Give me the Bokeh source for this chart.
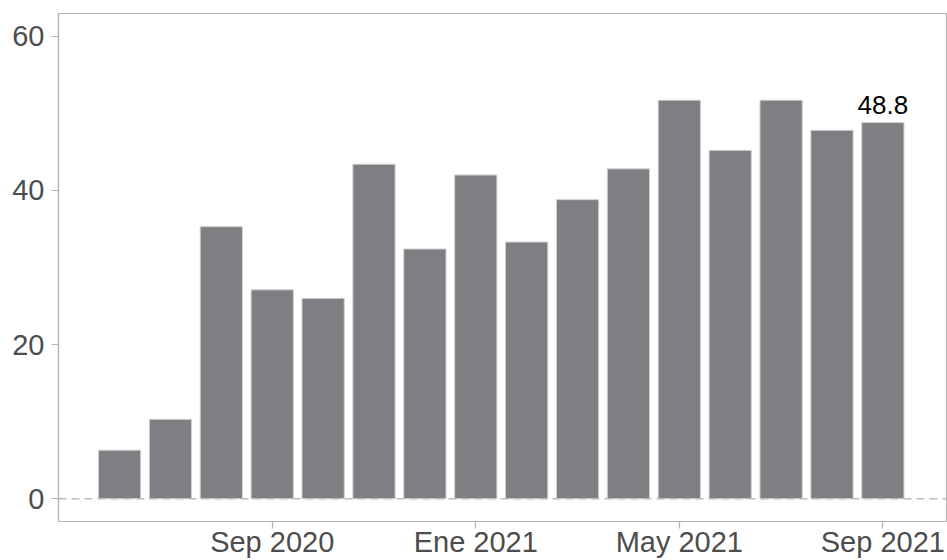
from bokeh.plotting import figure
from bokeh.models import ColumnDataSource, FixedTicker, Span, Range1d
from bokeh.core.properties import value
from bokeh.embed import file_html
from bokeh.resources import INLINE

months = ["Jun 2020", "Jul 2020", "Ago 2020", "Sep 2020", "Oct 2020", "Nov 2020",
          "Dic 2020", "Ene 2021", "Feb 2021", "Mar 2021", "Abr 2021", "May 2021",
          "Jun 2021", "Jul 2021", "Ago 2021", "Sep 2021"]
values = [6.3, 10.3, 35.3, 27.1, 26.0, 43.4, 32.4, 42.0, 33.3, 38.8, 42.8, 51.7,
          45.2, 51.7, 47.8, 48.8]
tick_labels = ["Sep 2020", "Ene 2021", "May 2021", "Sep 2021"]
y_ticks = [0, 20, 40, 60]

idx = list(range(len(months)))
tick_pos = [months.index(t) for t in tick_labels]

src = ColumnDataSource(dict(x=idx, top=values, month=months))

p = figure(width=947, height=560, output_backend="svg", toolbar_location=None,
           x_range=Range1d(-1.2, 16.27), y_range=Range1d(-2.95, 62.95),
           min_border_left=58, min_border_top=13, min_border_right=0, min_border_bottom=0)

p.vbar(x="x", top="top", bottom=0, width=0.83, source=src,
       fill_color="#7f7f83", line_color="#d0d0d0", line_width=1)

p.add_layout(Span(location=0, dimension="width", line_color="#bdbdbd",
                  line_dash="8 5", line_width=1.5))

last = len(values) - 1
p.text(x=[idx[last]], y=[values[last]], text=[f"{values[last]:.1f}"],
       text_font=value("Liberation Sans"), text_font_size="26px",
       text_color="black", text_align="center", text_baseline="bottom", y_offset=-9)

p.xgrid.visible = False
p.ygrid.visible = False
p.outline_line_color = "#b3b3b3"
p.outline_line_width = 1.2
p.background_fill_color = "white"
p.border_fill_color = "white"

p.xaxis.ticker = FixedTicker(ticks=tick_pos)
p.xaxis.major_label_overrides = {i: months[i] for i in tick_pos}
p.yaxis.ticker = FixedTicker(ticks=y_ticks)

for ax in (p.xaxis, p.yaxis):
    ax.axis_line_color = "#b3b3b3"
    ax.axis_line_width = 1.2
    ax.major_tick_line_color = "#b3b3b3"
    ax.major_tick_line_width = 1.2
    ax.major_tick_out = 7
    ax.major_tick_in = 0
    ax.minor_tick_line_color = None
    ax.major_label_text_font = "Liberation Sans"
    ax.major_label_text_font_size = "29px"
    ax.major_label_text_color = "#4d4d4d"
p.xaxis.major_label_standoff = -3
p.yaxis.major_label_standoff = 7

open("out.html", "w").write(file_html(p, INLINE))
